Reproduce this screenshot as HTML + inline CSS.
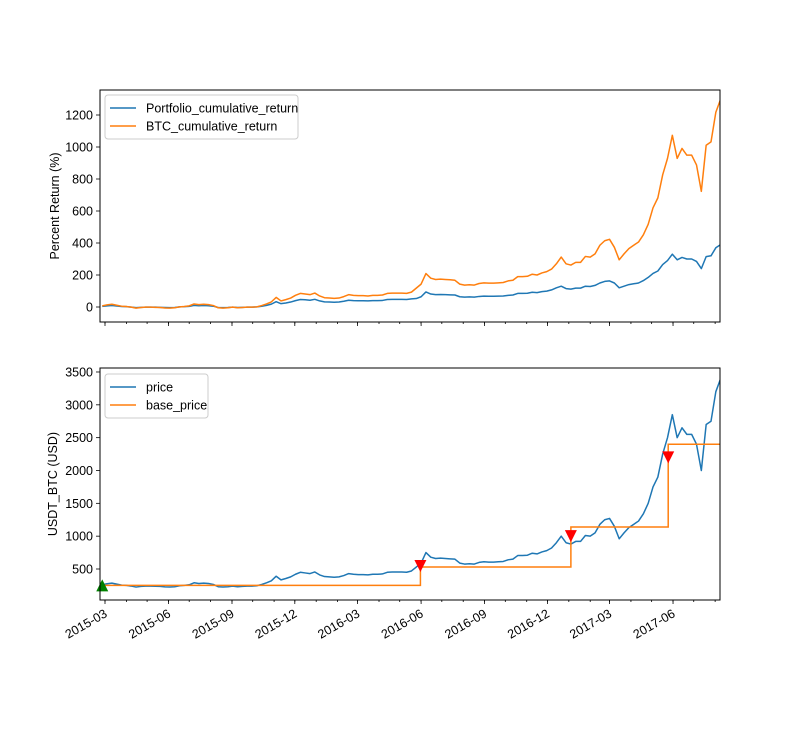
<!DOCTYPE html>
<html><head><meta charset="utf-8"><style>
html,body{margin:0;padding:0;background:#fff;}
svg{display:block;font-family:"Liberation Sans","DejaVu Sans",sans-serif;}
</style></head><body>
<svg id="chart" width="800" height="750" viewBox="0 0 800 750" xmlns="http://www.w3.org/2000/svg"></svg>
<script>
const startDate = '2015-02-25';
const stepDays = 7;
const priceValues = [260,275,285,270,255,250,240,225,235,240,240,237,235,228,225,230,245,250,260,290,280,285,280,265,230,225,230,240,230,235,240,240,245,265,290,320,390,335,355,380,420,450,440,430,455,410,385,380,375,380,400,430,420,415,415,410,420,420,425,450,455,455,455,450,470,530,590,750,680,660,665,660,655,650,590,575,580,575,600,610,605,605,610,615,640,650,705,705,710,740,730,760,780,820,900,1000,900,880,920,920,1010,1000,1050,1180,1250,1270,1150,960,1050,1130,1180,1230,1340,1500,1750,1900,2250,2500,2850,2500,2650,2550,2550,2400,2000,2700,2750,3200,3400];
const btcReturn = [7,13,17,11,5,3,-1,-7,-3,-1,-1,-2,-3,-6,-7,-5,1,3,7,19,15,17,15,9,-5,-7,-5,-1,-5,-3,-1,-1,1,9,19,32,60,38,46,56,73,85,81,77,87,69,58,56,54,56,65,77,73,71,71,69,73,73,75,85,87,87,87,85,93,118,143,209,180,172,174,172,170,167,143,137,139,137,147,151,149,149,151,153,163,167,190,190,192,205,200,213,221,237,270,312,270,262,279,279,316,312,332,386,414,423,373,295,332,365,386,406,451,517,620,682,826,929,1073,929,991,949,949,888,723,1011,1032,1217,1299];
const portfolioReturn = [4,7,9,6,3,2,-1,-4,-2,-1,-1,-1,-2,-3,-4,-3,1,2,4,10,8,9,8,5,-3,-4,-3,-1,-3,-2,-1,-1,1,5,10,18,33,21,25,31,40,47,45,42,48,38,32,31,30,31,36,42,40,39,39,38,40,40,41,47,48,48,48,47,51,53,64,94,81,77,78,77,76,75,64,62,63,62,66,68,67,67,68,69,73,75,85,85,86,92,90,96,99,107,120,130,115,112,118,118,130,128,135,150,160,163,150,120,130,140,145,150,165,185,210,225,265,290,330,295,310,300,300,285,240,315,320,370,390];
const baseDates = ['2015-02-25','2016-05-31','2017-01-04','2017-05-25'];
const baseValues = [250,530,1140,2400];
const buyDates = ['2015-02-25'];
const buyValues = [250];
const sellDates = ['2016-05-31','2017-01-04','2017-05-25'];
const sellValues = [545,1000,2200];
const xTickLabels = ['2015-03','2015-06','2015-09','2015-12','2016-03','2016-06','2016-09','2016-12','2017-03','2017-06'];
const topYTicks = [0,200,400,600,800,1000,1200];
const botYTicks = [500,1000,1500,2000,2500,3000,3500];

const NS='http://www.w3.org/2000/svg';
const svg=document.getElementById('chart');
function el(tag,attrs,parent){const e=document.createElementNS(NS,tag);for(const k in attrs)e.setAttribute(k,attrs[k]);(parent||svg).appendChild(e);return e;}
const DAY=86400000;
const origin=Date.UTC(2015,2,1);
function dnum(s){const p=s.split('-').map(Number);return (Date.UTC(p[0],p[1]-1,p[2]||1)-origin)/DAY;}
const L=100,R=720;
function X(days){return 105+days*0.6902;}
const topAx={t:90,b:322};
const botAx={t:368,b:600};
function YT(v){return 307-v*0.16;}
function YB(v){return 569-(v-500)*0.06567;}
const startD=dnum(startDate);
function idxDay(i){return startD+i*stepDays;}

const defs=el('defs',{});
function clip(id,ax){const cp=el('clipPath',{id:id},defs);el('rect',{x:L,y:ax.t,width:R-L,height:ax.b-ax.t},cp);}
clip('ct',topAx);clip('cb',botAx);

function axisFrame(ax,name){
  const r=el('rect',{x:L,y:ax.t,width:R-L,height:ax.b-ax.t,fill:'none',stroke:'#000','stroke-width':1});
  
  
}
function xTicks(ax,labels,name){
  const g=el('g',{});
  
  
  for(let y=2015;y<=2017;y++)for(let m=1;m<=12;m++){
    const d=dnum(y+'-'+String(m).padStart(2,'0')+'-01');const x=X(d);
    if(x<L||x>R)continue;
    el('line',{x1:x,x2:x,y1:ax.b,y2:ax.b+2,stroke:'#000','stroke-width':0.8},g);
  }
  xTickLabels.forEach(s=>{
    const x=X(dnum(s+'-01'));
    el('line',{x1:x,x2:x,y1:ax.b,y2:ax.b+4,stroke:'#000','stroke-width':0.8},g);
    if(labels){
      const t=el('text',{x:x+3,y:ax.b+16,'font-size':12.5,'text-anchor':'end',transform:`rotate(-30 ${x+3} ${ax.b+16})`,fill:'#000'},g);
      t.textContent=s;
      
      
    }
  });
}
function yTicks(ticks,fy,name){
  const g=el('g',{});
  
  
  ticks.forEach(v=>{
    const y=fy(v);
    el('line',{x1:L-4,x2:L,y1:y,y2:y,stroke:'#000','stroke-width':0.8},g);
    const t=el('text',{x:L-7,y:y+4.5,'font-size':12.5,'text-anchor':'end',fill:'#000'},g);
    t.textContent=v;
  });
}
function series(vals,fy,color,clipId,name){
  let d='';vals.forEach((v,i)=>{d+=(i?'L':'M')+X(idxDay(i)).toFixed(2)+' '+fy(v).toFixed(2);});
  const p=el('path',{d:d,fill:'none',stroke:color,'stroke-width':1.5,'stroke-linejoin':'round','clip-path':`url(#${clipId})`});
  
  
}

series(portfolioReturn,YT,'#1f77b4','ct','portfolio-return-line');
series(btcReturn,YT,'#ff7f0e','ct','btc-return-line');
axisFrame(topAx,'top-axes-frame');
xTicks(topAx,false,'top-x-axis');
yTicks(topYTicks,YT,'top-y-axis');
const yt1=el('text',{x:59,y:206,'font-size':12.5,'text-anchor':'middle',transform:'rotate(-90 59 206)'});
yt1.textContent='Percent Return (%)';



series(priceValues,YB,'#1f77b4','cb','price-line');
(function(){
  let d='';
  baseDates.forEach((s,i)=>{const x=X(dnum(s)),y=YB(baseValues[i]);
    if(i===0)d+='M'+x+' '+y;else d+='L'+x+' '+YB(baseValues[i-1])+'L'+x+' '+y;});
  d+='L'+R+' '+YB(baseValues[baseValues.length-1]);
  const p=el('path',{d:d,fill:'none',stroke:'#ff7f0e','stroke-width':1.5,'clip-path':'url(#cb)'});
  
  
})();
buyDates.forEach((s,i)=>{const x=X(dnum(s)),y=YB(buyValues[i]);
  const m=el('polygon',{points:`${x-6},${y+6} ${x+6},${y+6} ${x},${y-6}`,fill:'green'});
  
  
});
sellDates.forEach((s,i)=>{const x=X(dnum(s)),y=YB(sellValues[i]);
  const m=el('polygon',{points:`${x-6},${y-6} ${x+6},${y-6} ${x},${y+6}`,fill:'red'});
  
  
});
axisFrame(botAx,'bottom-axes-frame');
xTicks(botAx,true,'bottom-x-axis');
yTicks(botYTicks,YB,'bottom-y-axis');
const yt2=el('text',{x:57,y:484,'font-size':12.5,'text-anchor':'middle',transform:'rotate(-90 57 484)'});
yt2.textContent='USDT_BTC (USD)';



function legend(x,y,w,entries,name){
  const g=el('g',{});
  
  
  el('rect',{x:x,y:y,width:w,height:8+entries.length*18,rx:3,fill:'#fff','fill-opacity':0.8,stroke:'#ccc','stroke-width':1},g);
  entries.forEach((e,i)=>{
    const yy=y+13+i*18;
    el('line',{x1:x+5,x2:x+31,y1:yy,y2:yy,stroke:e[1],'stroke-width':1.5},g);
    const t=el('text',{x:x+41,y:yy+4.5,'font-size':12.5},g);
    t.textContent=e[0];
    
    
  });
}
legend(105,95,193,[['Portfolio_cumulative_return','#1f77b4'],['BTC_cumulative_return','#ff7f0e']],'top-legend');
legend(105,374,103,[['price','#1f77b4'],['base_price','#ff7f0e']],'bottom-legend');
</script>
</body></html>
